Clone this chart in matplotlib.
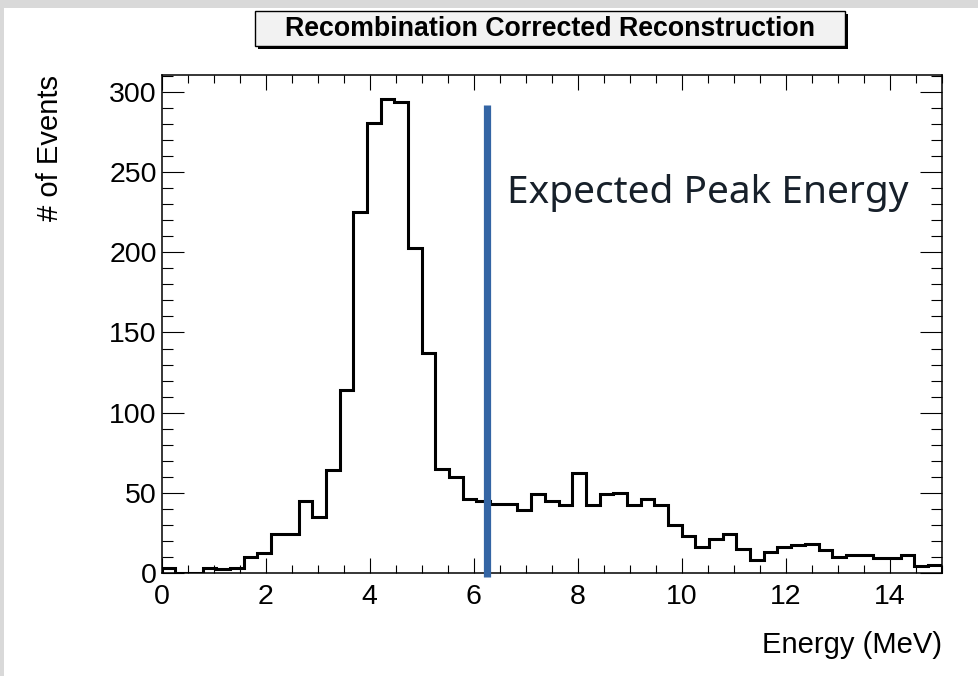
import numpy as np
import matplotlib
matplotlib.use('Agg')
import matplotlib.pyplot as plt
from matplotlib.patches import Rectangle
from matplotlib.ticker import MultipleLocator

# histogram: 57 bins between 0 and 15 MeV
counts = [3, 0, 0, 3, 2, 3, 10, 12, 24, 24,
          45, 35, 64, 114, 225, 281, 296, 294, 203, 137,
          65, 60, 46, 45, 43, 43, 39, 49, 45, 42,
          62, 42, 49, 50, 42, 46, 42, 30, 23, 16,
          21, 24, 15, 8, 13, 16, 17, 18, 14, 10,
          11, 11, 9, 9, 11, 4, 5]
e_min, e_max = 0.0, 15.0
peak_energy = 6.26
title = 'Recombination Corrected Reconstruction'

edges = np.linspace(e_min, e_max, len(counts) + 1)

plt.rcParams['font.family'] = ['Liberation Sans', 'DejaVu Sans']

fig = plt.figure(figsize=(9.79, 6.76), dpi=100)
fig.patch.set_facecolor('#d9d9d9')
W, H = 979.0, 676.0
# white canvas (ROOT pad)
fig.add_artist(Rectangle((4 / W, 0), 1, 1 - 8 / H, transform=fig.transFigure,
                         facecolor='white', edgecolor='none', zorder=0))

ax = fig.add_axes([161.7 / W, 1 - 572.7 / H, 780.0 / W, 497.7 / H])
ax.stairs(counts, edges, color='black', linewidth=2.2, baseline=0)

ax.set_xlim(e_min, e_max)
ax.set_ylim(0, max(counts) * 1.05)

ax.xaxis.set_major_locator(MultipleLocator(2))
ax.xaxis.set_minor_locator(MultipleLocator(0.5))
ax.yaxis.set_major_locator(MultipleLocator(50))
ax.yaxis.set_minor_locator(MultipleLocator(10))
ax.tick_params(which='both', direction='in', top=True, right=True, width=0.8,
               colors='black', labelsize=20.5)
ax.tick_params(axis='x', which='major', length=10.5, pad=8)
ax.tick_params(axis='x', which='minor', length=5.5)
ax.tick_params(axis='y', which='major', length=16, pad=3.5)
ax.tick_params(axis='y', which='minor', length=8)
for s in ax.spines.values():
    s.set_linewidth(1.1)

ax.set_xlabel('Energy (MeV)', fontsize=21, ha='right')
ax.xaxis.set_label_coords(1.0, -0.117)
ax.set_ylabel('# of Events', fontsize=21, ha='right')
ax.yaxis.set_label_coords(-0.125, 1.0)

# expected peak line + label
ax.vlines(peak_energy, -2.7, 292, color='#3465a4', linewidth=5.2, clip_on=False, zorder=3)
ax.text(6.65, 230.7, 'Expected Peak Energy', fontsize=28, color='#17202a',
        family=['Noto Sans', 'DejaVu Sans'], va='baseline', ha='left')

# ROOT style title box with shadow
bx0, bx1, by0, by1 = 255 / W, 845 / W, 1 - 46 / H, 1 - 11 / H
fig.add_artist(Rectangle((bx0 + 3 / W, by0 - 3 / H), bx1 - bx0, by1 - by0,
                         transform=fig.transFigure, facecolor='black',
                         edgecolor='none', zorder=1))
fig.add_artist(Rectangle((bx0, by0), bx1 - bx0, by1 - by0,
                         transform=fig.transFigure, facecolor='#f2f2f2',
                         edgecolor='black', linewidth=1, zorder=2))
fig.text((bx0 + bx1) / 2, (by0 + by1) / 2, title, fontsize=19.3, fontweight='bold',
         ha='center', va='center', zorder=3)

fig.savefig('out.png', dpi=100, facecolor=fig.get_facecolor())
